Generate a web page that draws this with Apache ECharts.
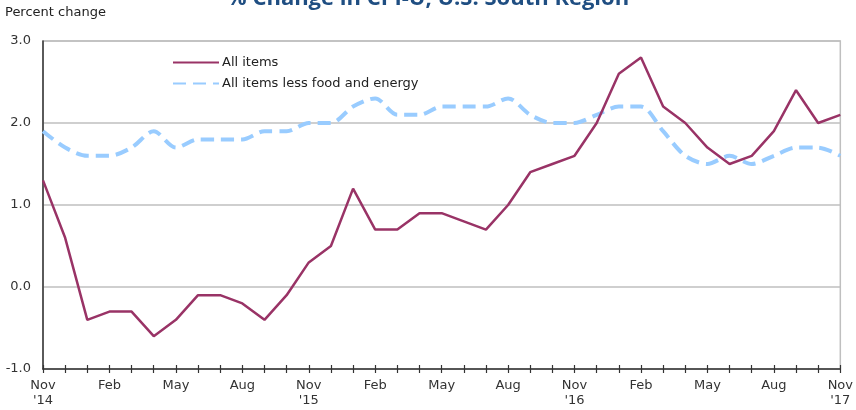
<!DOCTYPE html>
<html>
<head>
<meta charset="utf-8">
<script src="https://cdn.jsdelivr.net/npm/echarts@6/dist/echarts.min.js"></script>
<style>
  html, body { margin: 0; padding: 0; background: #fff; }
  #cpi_chart { width: 856px; height: 410px; }
</style>
</head>
<body>
<div id="cpi_chart"></div>
<script>
// months Nov '14 .. Nov '17
const months = [
  'Nov\n\'14', 'Dec', 'Jan', 'Feb', 'Mar', 'Apr', 'May', 'Jun', 'Jul', 'Aug', 'Sep', 'Oct',
  'Nov\n\'15', 'Dec', 'Jan', 'Feb', 'Mar', 'Apr', 'May', 'Jun', 'Jul', 'Aug', 'Sep', 'Oct',
  'Nov\n\'16', 'Dec', 'Jan', 'Feb', 'Mar', 'Apr', 'May', 'Jun', 'Jul', 'Aug', 'Sep', 'Oct',
  'Nov\n\'17'
]
const allItems = [
  1.3, 0.6, -0.4, -0.3, -0.3, -0.6, -0.4, -0.1, -0.1, -0.2, -0.4, -0.1,
  0.3, 0.5, 1.2, 0.7, 0.7, 0.9, 0.9, 0.8, 0.7, 1.0, 1.4, 1.5,
  1.6, 2.0, 2.6, 2.8, 2.2, 2.0, 1.7, 1.5, 1.6, 1.9, 2.4, 2.0,
  2.1
]
const coreItems = [
  1.9, 1.7, 1.6, 1.6, 1.7, 1.9, 1.7, 1.8, 1.8, 1.8, 1.9, 1.9,
  2.0, 2.0, 2.2, 2.3, 2.1, 2.1, 2.2, 2.2, 2.2, 2.3, 2.1, 2.0,
  2.0, 2.1, 2.2, 2.2, 1.9, 1.6, 1.5, 1.6, 1.5, 1.6, 1.7, 1.7,
  1.6
]
const seriesNames = ['All items', 'All items less food and energy']

const font = 'DejaVu Sans'
const chart = echarts.init(document.getElementById('cpi_chart'))
chart.setOption({
  animation: false,
  textStyle: { fontFamily: font },
  title: {
    text: '% Change in CPI-U, U.S. South Region',
    left: 'center',
    top: -17,
    textStyle: { fontFamily: 'Open Sans', fontWeight: 'bold', fontSize: 22, color: '#1F4E82' }
  },
  graphic: [{
    type: 'text',
    left: 5,
    top: 6,
    style: { text: 'Percent change', fontFamily: font, fontSize: 13, fill: '#222' }
  }],
  legend: {
    orient: 'vertical',
    left: 167,
    top: 51,
    itemWidth: 46,
    itemHeight: 12,
    itemGap: 8,
    data: seriesNames,
    itemStyle: { opacity: 0 },
    textStyle: { fontFamily: font, fontSize: 13, color: '#222', padding: [0, 0, 0, -2] }
  },
  grid: {
    left: 43,
    right: 13,
    top: 41,
    bottom: 41,
    show: true,
    borderColor: '#bfbfbf',
    borderWidth: 1.5
  },
  xAxis: [
    {
      type: 'category',
      data: months,
      boundaryGap: false,
      axisLine: { onZero: false, lineStyle: { color: '#333', width: 1.5 } },
      axisTick: { show: true, interval: 0, length: 4, lineStyle: { color: '#333', width: 1.2 } },
      axisLabel: {
        interval: 2,
        margin: 9,
        fontSize: 13,
        color: '#333',
        lineHeight: 15
      },
      splitLine: { show: false }
    },
    {
      type: 'category',
      data: months,
      position: 'bottom',
      boundaryGap: false,
      axisLine: { show: false, onZero: false },
      axisTick: { show: true, inside: true, interval: 0, length: 4, lineStyle: { color: '#333', width: 1.2 } },
      axisLabel: { show: false },
      splitLine: { show: false }
    }
  ],
  yAxis: {
    type: 'value',
    min: -1,
    max: 3,
    interval: 1,
    axisLine: { show: true, lineStyle: { color: '#333', width: 1.5 } },
    axisTick: { show: false },
    axisLabel: {
      margin: 12,
      fontSize: 13,
      color: '#333',
      formatter: v => v.toFixed(1)
    },
    splitLine: { lineStyle: { color: '#bfbfbf', width: 1.5 } }
  },
  series: [
    {
      name: seriesNames[0],
      type: 'line',
      data: allItems,
      symbol: 'none',
      lineStyle: { color: '#993366', width: 2.5 },
      itemStyle: { color: '#993366' },
      z: 3
    },
    {
      name: seriesNames[1],
      type: 'line',
      data: coreItems,
      symbol: 'none',
      smooth: 0.3,
      lineStyle: { color: '#99CCFF', width: 4, type: [13, 7] },
      itemStyle: { color: '#99CCFF' },
      z: 2
    }
  ]
})
</script>
</body>
</html>
